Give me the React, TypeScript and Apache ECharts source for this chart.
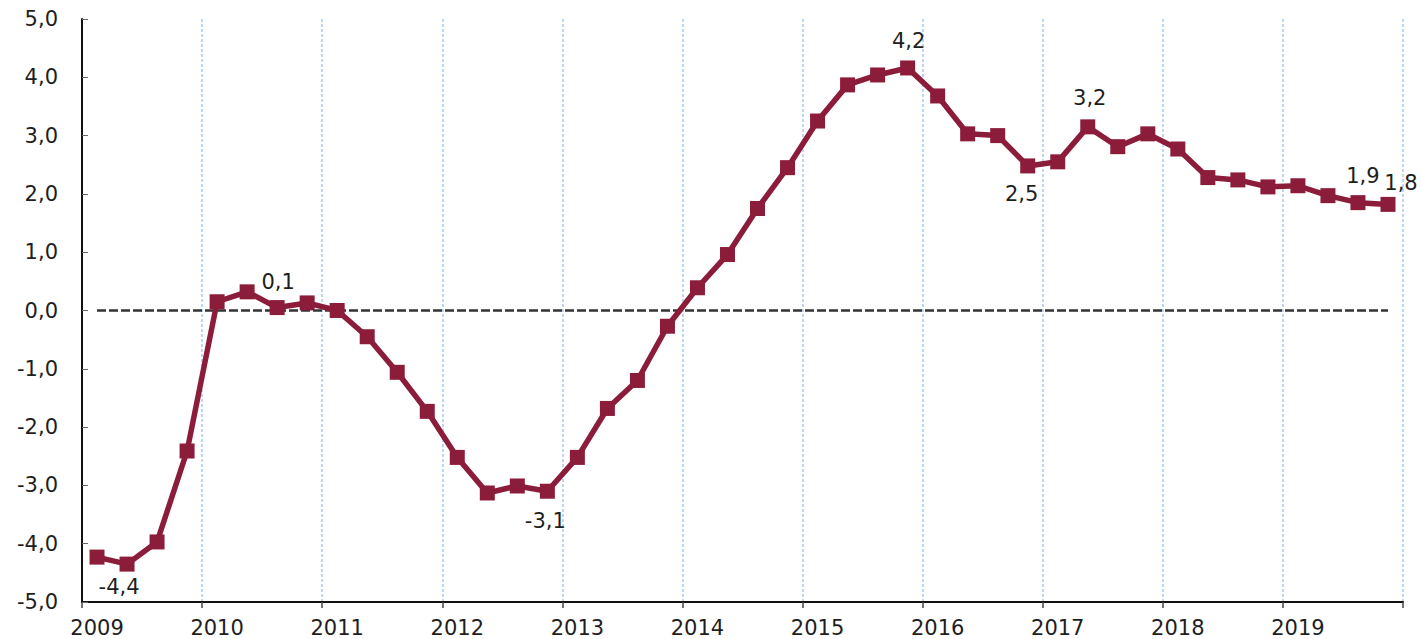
import React, { useEffect, useRef } from "react";
import * as echarts from "echarts";

const years = ["2009", "2010", "2011", "2012", "2013", "2014", "2015", "2016", "2017", "2018", "2019"];
const quarters = ["Q1", "Q2", "Q3", "Q4"];
const categories: string[] = years.flatMap((y) => quarters.map((q) => `${y} ${q}`));

const values: number[] = [
  -4.23, -4.35, -3.97, -2.41,
  0.15, 0.32, 0.05, 0.13,
  0.0, -0.45, -1.06, -1.73,
  -2.52, -3.13, -3.01, -3.1,
  -2.52, -1.68, -1.2, -0.27,
  0.39, 0.96, 1.75, 2.45,
  3.25, 3.87, 4.04, 4.16,
  3.68, 3.03, 3.0, 2.48,
  2.55, 3.15, 2.81, 3.03,
  2.77, 2.28, 2.24, 2.12,
  2.14, 1.97, 1.85, 1.82,
];

const pointLabels = [
  { index: 1, text: "-4,4", pos: "bottom" },
  { index: 6, text: "0,1", pos: "top" },
  { index: 15, text: "-3,1", pos: "bottom" },
  { index: 27, text: "4,2", pos: "top" },
  { index: 31, text: "2,5", pos: "bottom" },
  { index: 33, text: "3,2", pos: "top" },
  { index: 42, text: "1,9", pos: "top" },
  { index: 43, text: "1,8", pos: "top" },
];

const labelOffsets: Record<number, [number, number]> = {
  1: [-8, -5],
  6: [1, 2],
  15: [-2, 2],
  27: [1, 1],
  31: [-6, 0],
  33: [2, -1],
  42: [5, 1],
  43: [13, 7],
};

const FONT = "'DejaVu Sans', sans-serif";
const TEXT = "#1e1e1e";
const LINE = "#8C1D3A";

export default function App() {
  const ref = useRef<HTMLDivElement>(null);
  useEffect(() => {
    if (!ref.current) return;
    const chart = echarts.init(ref.current, null, { renderer: "svg" });
    const data = values.map((v, i) => {
      const pl = pointLabels.find((p) => p.index === i);
      if (!pl) return v;
      return {
        value: v,
        label: {
          show: true,
          position: pl.pos,
          distance: 10,
          offset: labelOffsets[i] || [0, 0],
          formatter: pl.text,
          fontFamily: FONT,
          fontSize: 21,
          color: TEXT,
        },
      };
    });
    chart.setOption({
      animation: false,
      backgroundColor: "#ffffff",
      grid: { left: 82, right: 18, top: 19, bottom: 37, containLabel: false },
      xAxis: {
        type: "category",
        data: categories,
        boundaryGap: true,
        axisLine: { onZero: false, lineStyle: { color: "#111", width: 2 } },
        axisTick: { show: true, interval: 3, length: 6, lineStyle: { color: "#444", width: 1.5 } },
        axisLabel: {
          interval: 3,
          margin: 15,
          fontFamily: FONT,
          fontSize: 21,
          color: TEXT,
          formatter: (v: string) => v.slice(0, 4),
        },
        splitLine: {
          show: true,
          interval: 3,
          lineStyle: { color: "#a9c9ea", width: 1.5, type: [3, 2] },
        },
      },
      yAxis: {
        type: "value",
        min: -5,
        max: 5,
        interval: 1,
        axisLine: { show: true, lineStyle: { color: "#111", width: 2 } },
        axisTick: { show: true, inside: true, length: 6, lineStyle: { color: "#666", width: 1 } },
        axisLabel: {
          margin: 24,
          fontFamily: FONT,
          fontSize: 21,
          color: TEXT,
          formatter: (v: number) => v.toFixed(1).replace(".", ","),
        },
        splitLine: { show: false },
      },
      series: [
        {
          type: "line",
          data,
          symbol: "rect",
          symbolSize: 15,
          showAllSymbol: true,
          lineStyle: { color: LINE, width: 5.5 },
          itemStyle: { color: LINE },
          z: 3,
          markLine: {
            silent: true,
            symbol: "none",
            label: { show: false },
            lineStyle: { color: "#333", width: 2.5, type: [9, 3] },
            data: [[{ coord: [0, 0] }, { coord: [43, 0] }]],
            z: 2,
          },
        },
      ],
    });
    return () => chart.dispose();
  }, []);
  return (
    <div
      ref={ref}
      style={{ position: "fixed", left: 0, top: 0, width: 1421, height: 639 }}
    />
  );
}
